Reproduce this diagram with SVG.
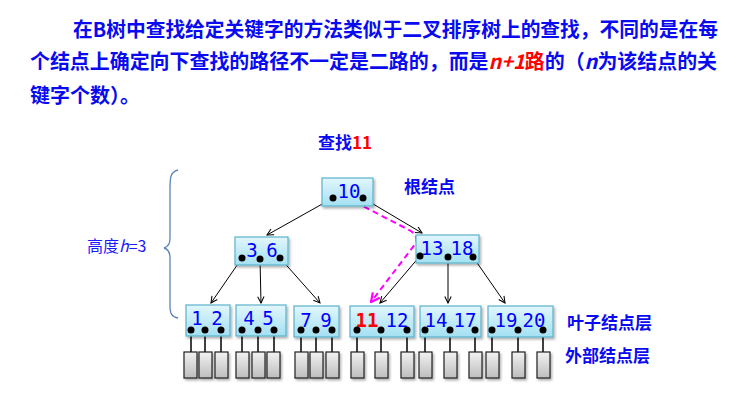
<svg xmlns="http://www.w3.org/2000/svg" width="737" height="400" viewBox="0 0 737 400">
<style>
.para{font-family:"Noto Sans CJK SC","Noto Sans",sans-serif;font-size:20px;font-weight:bold;fill:#0a0af0}
.red{fill:#ff0000}
.lbl{font-family:"Noto Sans CJK SC","Noto Sans",sans-serif;font-size:17px;font-weight:bold;fill:#0a0af0}
.num{font-family:"DejaVu Sans Mono","Liberation Mono",monospace;font-size:19px;fill:#0000ff;text-anchor:middle}
.nbox{fill:url(#gBlue);stroke:#5ab2cc;stroke-width:1.2;filter:url(#sh)}
.ext{fill:url(#gGrey);stroke:#222;stroke-width:1.2;filter:url(#sh)}
.dot{fill:#000}
.edge{stroke:#000;stroke-width:1;fill:none;marker-end:url(#arr)}
.stem{stroke:#000;stroke-width:1.5}
</style>
<defs>
<linearGradient id="gBlue" x1="0" y1="0" x2="0" y2="1">
<stop offset="0" stop-color="#e2f6fc"/>
<stop offset="1" stop-color="#a3e0f2"/>
</linearGradient>
<linearGradient id="gGrey" x1="0" y1="0" x2="0" y2="1">
<stop offset="0" stop-color="#f2f2f2"/>
<stop offset="1" stop-color="#bdbdbd"/>
</linearGradient>
<filter id="sh" x="-20%" y="-20%" width="150%" height="150%">
<feDropShadow dx="1.5" dy="2" stdDeviation="1.2" flood-color="#000" flood-opacity="0.3"/>
</filter>
<marker id="arr" viewBox="0 0 10 10" refX="9" refY="5" markerWidth="8" markerHeight="8" orient="auto" markerUnits="userSpaceOnUse">
<path d="M1,1 L9,5 L1,9" fill="none" stroke="#000" stroke-width="1.3"/>
</marker>
<marker id="parr" viewBox="0 0 10 10" refX="9" refY="5" markerWidth="11" markerHeight="11" orient="auto" markerUnits="userSpaceOnUse">
<path d="M1,1 L9,5 L1,9" fill="none" stroke="#ff00ff" stroke-width="2"/>
</marker>
</defs>
<rect width="737" height="400" fill="#ffffff"/>

<g id="paragraph">
<text class="para" x="73" y="37" textLength="645" lengthAdjust="spacingAndGlyphs">在B树中查找给定关键字的方法类似于二叉排序树上的查找，不同的是在每</text>
<text class="para" x="30" y="69" textLength="687" lengthAdjust="spacingAndGlyphs">个结点上确定向下查找的路径不一定是二路的，而是<tspan class="red" font-style="italic">n+1</tspan><tspan class="red">路</tspan>的（<tspan font-style="italic">n</tspan>为该结点的关</text>
<text class="para" x="30" y="103">键字个数）。</text>
</g>

<g id="title"><text class="lbl" x="318" y="149" font-size="16">查找<tspan class="red">11</tspan></text></g>
<g id="label-root"><text class="lbl" x="404" y="193">根结点</text></g>
<g id="label-leaf"><text class="lbl" x="567" y="329">叶子结点层</text></g>
<g id="label-ext"><text class="lbl" x="565" y="362">外部结点层</text></g>
<g id="height">
<path d="M178,170 C170,172 170,178 170,190 L170,238 C170,244 168,247 164,248 C168,249 170,252 170,258 L170,306 C170,314 172,317 178,318" fill="none" stroke="#5a84b8" stroke-width="1.3"/>
<text x="87" y="252" font-family="'Noto Sans CJK SC','Noto Sans',sans-serif" font-size="16" fill="#1a1aff">高度<tspan font-style="italic">h</tspan>=3</text>
</g>

<g id="connectors">
<line class="edge" x1="333" y1="198" x2="267" y2="235"/>
<line class="edge" x1="363" y1="198" x2="422" y2="233"/>
<line class="edge" x1="242" y1="258" x2="211" y2="303"/>
<line class="edge" x1="260" y1="259" x2="261" y2="303"/>
<line class="edge" x1="280" y1="258" x2="320" y2="303"/>
<line class="edge" x1="420" y1="256" x2="380" y2="303"/>
<line class="edge" x1="448" y1="257" x2="448" y2="303"/>
<line class="edge" x1="473" y1="257" x2="505" y2="303"/>
<path d="M355,202 L411,231 Q418,236 416,243 L371,302" fill="none" stroke="#ff00ff" stroke-width="2" stroke-dasharray="6,4" marker-end="url(#parr)"/>
<g class="stems">
<line class="stem" x1="191" y1="330" x2="191" y2="352"/>
<line class="stem" x1="205" y1="330" x2="205" y2="352"/>
<line class="stem" x1="221" y1="330" x2="221" y2="352"/>
<line class="stem" x1="242" y1="330" x2="242" y2="352"/>
<line class="stem" x1="258" y1="330" x2="258" y2="352"/>
<line class="stem" x1="274" y1="330" x2="274" y2="352"/>
<line class="stem" x1="301" y1="330" x2="301" y2="352"/>
<line class="stem" x1="316" y1="330" x2="316" y2="352"/>
<line class="stem" x1="332" y1="330" x2="332" y2="352"/>
<line class="stem" x1="357" y1="330" x2="357" y2="352"/>
<line class="stem" x1="381" y1="330" x2="381" y2="352"/>
<line class="stem" x1="407" y1="330" x2="407" y2="352"/>
<line class="stem" x1="425" y1="330" x2="425" y2="352"/>
<line class="stem" x1="450" y1="330" x2="450" y2="352"/>
<line class="stem" x1="475" y1="330" x2="475" y2="352"/>
<line class="stem" x1="492" y1="330" x2="492" y2="352"/>
<line class="stem" x1="518" y1="330" x2="518" y2="352"/>
<line class="stem" x1="543" y1="330" x2="543" y2="352"/>
</g>
</g>

<g id="node-root">
<rect class="nbox" x="322" y="178" width="51" height="28"/>
<text class="num" x="349" y="198">10</text>
<circle class="dot" cx="333" cy="198" r="3.5"/><circle class="dot" cx="363" cy="198" r="3.5"/>
</g>
<g id="node-36">
<rect class="nbox" x="235" y="237" width="53" height="28"/>
<text class="num" x="252" y="257">3</text><text class="num" x="272" y="257">6</text>
<circle class="dot" cx="242" cy="258" r="3.5"/><circle class="dot" cx="260" cy="259" r="3.5"/><circle class="dot" cx="280" cy="258" r="3.5"/>
</g>
<g id="node-1318">
<rect class="nbox" x="416" y="235" width="63" height="28"/>
<text class="num" x="432" y="255">13</text><text class="num" x="462" y="255">18</text>
<circle class="dot" cx="420" cy="256" r="3.5"/><circle class="dot" cx="448" cy="257" r="3.5"/><circle class="dot" cx="473" cy="257" r="3.5"/>
</g>

<g id="leaf-12">
<rect class="nbox" x="186" y="305" width="44" height="31"/>
<text class="num" x="197" y="325">1</text><text class="num" x="217" y="325">2</text>
<circle class="dot" cx="191" cy="330" r="3.5"/><circle class="dot" cx="205" cy="330" r="3.5"/><circle class="dot" cx="221" cy="330" r="3.5"/>
</g>
<g id="leaf-45">
<rect class="nbox" x="236" y="305" width="50" height="31"/>
<text class="num" x="249" y="325">4</text><text class="num" x="268" y="325">5</text>
<circle class="dot" cx="242" cy="330" r="3.5"/><circle class="dot" cx="258" cy="330" r="3.5"/><circle class="dot" cx="274" cy="330" r="3.5"/>
</g>
<g id="leaf-79">
<rect class="nbox" x="294" y="306" width="45" height="31"/>
<text class="num" x="306" y="327">7</text><text class="num" x="326" y="327">9</text>
<circle class="dot" cx="301" cy="330" r="3.5"/><circle class="dot" cx="316" cy="330" r="3.5"/><circle class="dot" cx="332" cy="330" r="3.5"/>
</g>
<g id="leaf-1112">
<rect class="nbox" x="350" y="306" width="64" height="31"/>
<text class="num" x="367" y="327" style="fill:#ff0000;font-weight:bold">11</text><text class="num" x="397" y="327">12</text>
<circle class="dot" cx="357" cy="330" r="3.5"/><circle class="dot" cx="381" cy="330" r="3.5"/><circle class="dot" cx="407" cy="330" r="3.5"/>
</g>
<g id="leaf-1417">
<rect class="nbox" x="420" y="306" width="61" height="31"/>
<text class="num" x="436" y="327">14</text><text class="num" x="465" y="327">17</text>
<circle class="dot" cx="425" cy="330" r="3.5"/><circle class="dot" cx="450" cy="330" r="3.5"/><circle class="dot" cx="475" cy="330" r="3.5"/>
</g>
<g id="leaf-1920">
<rect class="nbox" x="488" y="306" width="65" height="31"/>
<text class="num" x="506" y="327">19</text><text class="num" x="534" y="327">20</text>
<circle class="dot" cx="492" cy="330" r="3.5"/><circle class="dot" cx="518" cy="330" r="3.5"/><circle class="dot" cx="543" cy="330" r="3.5"/>
</g>

<g id="external">
<rect class="ext" x="184" y="352" width="13" height="26"/>
<rect class="ext" x="199" y="352" width="13" height="26"/>
<rect class="ext" x="215" y="352" width="13" height="26"/>
<rect class="ext" x="236" y="352" width="13" height="26"/>
<rect class="ext" x="252" y="352" width="13" height="26"/>
<rect class="ext" x="267" y="352" width="13" height="26"/>
<rect class="ext" x="295" y="352" width="13" height="26"/>
<rect class="ext" x="310" y="352" width="13" height="26"/>
<rect class="ext" x="326" y="352" width="13" height="26"/>
<rect class="ext" x="351" y="352" width="13" height="26"/>
<rect class="ext" x="375" y="352" width="13" height="26"/>
<rect class="ext" x="401" y="352" width="13" height="26"/>
<rect class="ext" x="419" y="352" width="13" height="26"/>
<rect class="ext" x="444" y="352" width="13" height="26"/>
<rect class="ext" x="469" y="352" width="13" height="26"/>
<rect class="ext" x="486" y="352" width="13" height="26"/>
<rect class="ext" x="512" y="352" width="13" height="26"/>
<rect class="ext" x="537" y="352" width="13" height="26"/>
</g>
</svg>
